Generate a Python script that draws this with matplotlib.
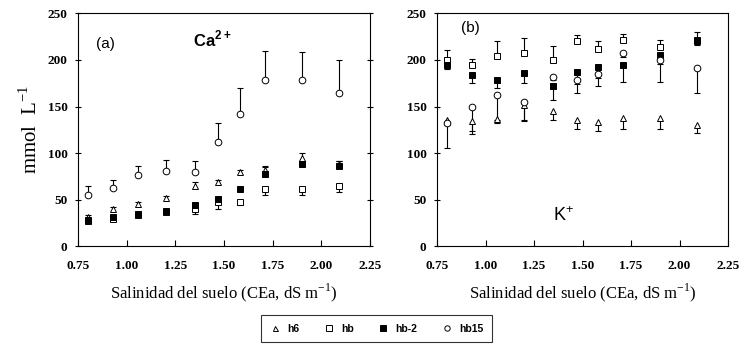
import numpy as np
import matplotlib
matplotlib.use("Agg")
import matplotlib.pyplot as plt
from matplotlib.lines import Line2D

# ---------- Daten ----------
x = [0.80, 0.93, 1.06, 1.20, 1.35, 1.47, 1.58, 1.71, 1.90, 2.09]

# (a) Ca2+
h6_ca = [31, 40, 45, 52, 65, 69, 80, 82, 95, 88]
h6_ca_up = [3, 2, 3, 2, 4, 2, 2, 3, 5, 3]
hb_ca = [27, 29, 34, 37, 40, 48, 48, 62, 62, 65]
hb_ca_lo = [2, 2, 2, 2, 5, 8, 4, 7, 7, 7]
hb2_ca = [28, 31, 35, 38, 44, 51, 61, 78, 88, 86]
hb2_ca_up = [1, 1, 1, 1, 1, 1, 1, 8, 3, 5]
hb15_ca = [55, 63, 77, 81, 80, 112, 142, 178, 178, 165]
hb15_ca_up = [10, 8, 9, 12, 12, 20, 28, 32, 30, 35]

# (b) K+
h6_k = [135, 134, 137, 152, 145, 135, 133, 138, 138, 130]
h6_k_lo = [5, 10, 5, 18, 9, 9, 9, 12, 12, 8]
hb_k = [200, 194, 204, 207, 200, 220, 212, 221, 214, 221]
hb_k_up = [11, 7, 16, 17, 15, 7, 8, 7, 7, 9]
hb2_k = [195, 184, 178, 186, 172, 187, 192, 195, 205, 220]
hb2_k_lo = [5, 9, 8, 11, 15, 22, 20, 19, 29, 4]
hb15_k = [132, 149, 162, 155, 182, 178, 185, 207, 200, 191]
hb15_k_lo = [27, 28, 27, 20, 4, 4, 4, 4, 4, 26]

xticks = [0.75, 1.00, 1.25, 1.50, 1.75, 2.00, 2.25]
yticks = [0, 50, 100, 150, 200, 250]

SERIF = "Liberation Serif"
SANS = "Liberation Sans"
STY = {"h6": dict(marker="^", mfc="white", ms=4.5),
       "hb": dict(marker="s", mfc="white", ms=5),
       "hb-2": dict(marker="s", mfc="black", ms=5),
       "hb15": dict(marker="o", mfc="white", ms=4.8)}


def series(ax, y, err, key, up=True):
    y = np.asarray(y, float); e = np.asarray(err, float)
    end = y + e if up else y - e
    ax.vlines(x, y, end, color="black", lw=0.8, zorder=2)
    ax.plot(x, end, ls="none", marker="_", ms=5, mew=0.8, color="black", zorder=2)
    ax.plot(x, y, ls="none", mec="black", mew=0.7, zorder=3, **STY[key])


def style(ax, right_ticks):
    ax.set_xlim(0.75, 2.25); ax.set_ylim(0, 250)
    ax.set_xticks(xticks); ax.set_xticklabels([f"{v:.2f}" for v in xticks])
    ax.set_yticks(yticks)
    ax.tick_params(axis="x", direction="in", length=4, width=0.8, pad=10)
    ax.tick_params(axis="y", direction="inout", length=5, width=0.8, pad=5, right=right_ticks)
    for lab in ax.get_xticklabels() + ax.get_yticklabels():
        lab.set_fontfamily(SERIF); lab.set_fontweight("bold"); lab.set_fontsize(9.5)
    for s in ax.spines.values():
        s.set_linewidth(0.8)
    ax.set_xlabel("Salinidad del suelo (CEa, dS m$^{\\mathregular{-1}}$)", fontfamily=SERIF,
                  fontsize=12, labelpad=7)


fig = plt.figure(figsize=(7.51, 3.51), dpi=100)
ax1 = fig.add_axes([0.1039, 0.2983, 0.3888, 0.6638])
ax2 = fig.add_axes([0.5819, 0.2983, 0.3875, 0.6638])

series(ax1, h6_ca, h6_ca_up, "h6")
series(ax1, hb_ca, hb_ca_lo, "hb", up=False)
series(ax1, hb2_ca, hb2_ca_up, "hb-2")
series(ax1, hb15_ca, hb15_ca_up, "hb15")
style(ax1, True)
ax1.set_ylabel("mmol  L$^{\\mathregular{-1}}$", fontfamily=SERIF, fontsize=15, labelpad=4)
ax1.text(0.89, 217, "(a)", fontfamily=SANS, fontsize=11, ha="center", va="center")
ax1.text(1.44, 222, "Ca$^{\\mathregular{2+}}$", fontfamily=SANS, fontsize=12, ha="center",
         va="center", fontweight="bold")

series(ax2, h6_k, h6_k_lo, "h6", up=False)
series(ax2, hb_k, hb_k_up, "hb")
series(ax2, hb2_k, hb2_k_lo, "hb-2", up=False)
series(ax2, hb15_k, hb15_k_lo, "hb15", up=False)
style(ax2, False)
ax2.text(0.92, 234, "(b)", fontfamily=SANS, fontsize=11, ha="center", va="center")
ax2.text(1.40, 33, "K$^{\\mathregular{+}}$", fontfamily=SANS, fontsize=13, ha="center", va="center")

handles = [Line2D([], [], ls="none", mec="black", mew=0.7,
                  **{**STY[k], "ms": STY[k]["ms"] * 0.8}) for k in STY]
leg = fig.legend(handles, list(STY), loc="center", bbox_to_anchor=(0.5013, 0.064), ncol=4,
                 frameon=True, fancybox=False, edgecolor="black", handlelength=1.0,
                 handletextpad=0.7, columnspacing=2.3, borderpad=0.8,
                 prop={"family": SANS, "weight": "bold", "size": 7.5})
leg.get_frame().set_linewidth(0.8)

fig.savefig("out.png", dpi=100)
